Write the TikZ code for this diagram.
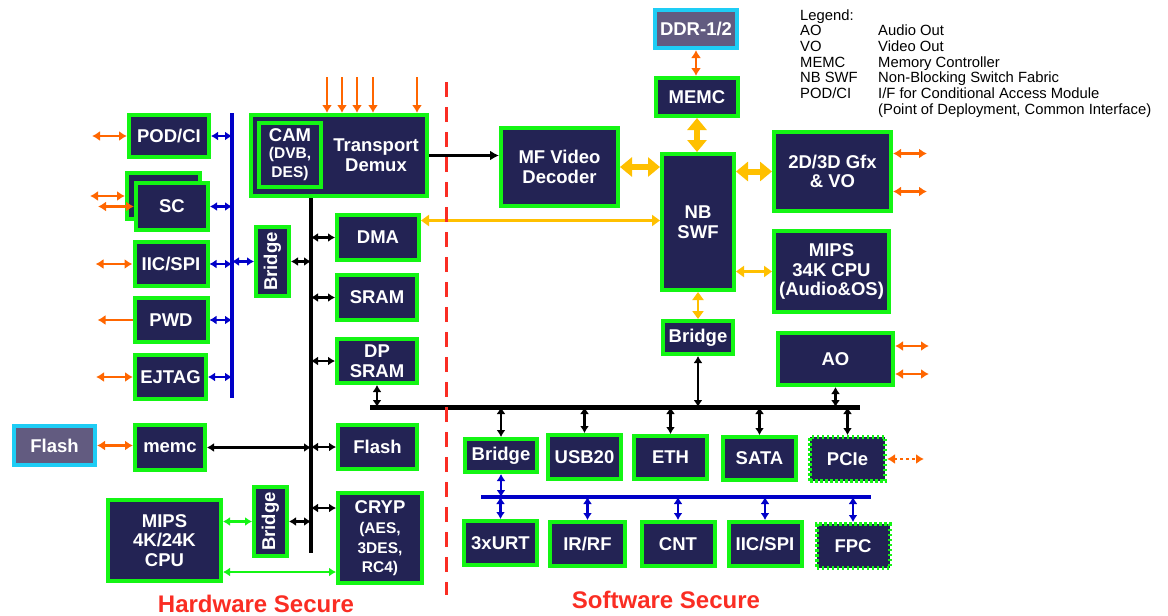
\documentclass[tikz,border=0pt]{standalone}
\usepackage{fontspec}
\setmainfont{Liberation Sans}
\usetikzlibrary{arrows.meta,calc}

\definecolor{navy}{RGB}{35,35,84}
\definecolor{boxgreen}{RGB}{20,245,20}
\definecolor{memfill}{RGB}{98,91,128}
\definecolor{memcyan}{RGB}{30,205,245}
\definecolor{sigorange}{RGB}{255,102,0}
\definecolor{swfyellow}{RGB}{255,192,0}
\definecolor{busblue}{RGB}{0,0,200}
\definecolor{securered}{RGB}{250,45,35}

\newcommand{\subfnt}{\fontsize{15.5}{15.5}\selectfont}

\tikzset{
  box/.style={draw=boxgreen, line width=4pt, fill=navy, text=white,
    font=\fontsize{18.5}{19.5}\selectfont\bfseries, align=center,
    inner sep=0pt, minimum width=73pt, minimum height=44pt},
  dotbox/.style={box, dash pattern=on 2.5pt off 2.5pt},
  membox/.style={box, draw=memcyan, fill=memfill},
  txt/.style={text=white, font=\fontsize{18.5}{20}\selectfont\bfseries, align=center, inner sep=0pt},
  dtip/.tip={Latex[length=7pt,width=9pt]},
  otip/.tip={Latex[length=8pt,width=10pt]},
  blarr/.style={busblue, line width=2.2pt, dtip-dtip},
  bkarr/.style={black, line width=2.2pt, dtip-dtip},
  grarr/.style={boxgreen, line width=2.5pt, dtip-dtip},
  orarr/.style={sigorange, line width=2.6pt, otip-otip},
  orin/.style={sigorange, line width=2.6pt, -otip},
  ywthick/.style={swfyellow, line width=6pt, {Triangle[length=12pt,width=19pt]}-{Triangle[length=12pt,width=19pt]}},
  ywthin/.style={swfyellow, line width=2.6pt, {Triangle[length=8pt,width=11pt]}-{Triangle[length=8pt,width=11pt]}},
  bus/.style={line width=3.2pt},
  seclabel/.style={securered, font=\fontsize{24}{26}\selectfont\bfseries, inner sep=0pt}
}

\begin{document}
\begin{tikzpicture}[x=1pt,y=-1pt]
  \useasboundingbox (0,0) rectangle (1168,616);

  % hardware secure side: peripherals on the blue bus
  \node[box, minimum width=80, minimum height=42] (podci) at (169,136) {POD/CI};
  \node[box, minimum width=73, minimum height=46] (scb) at (163.5,196) {};
  \node[box, minimum width=72, minimum height=47] (scf) at (172,206.5) {SC};
  \node[box] (iicl) at (171,264) {IIC/SPI};
  \node[box] (pwd) at (171,320) {PWD};
  \node[box, minimum width=71] (ejtag) at (170.5,377) {EJTAG};
  \node[box, minimum width=33, minimum height=69] (bridgeA) at (272.5,261.5) {\rotatebox{90}{Bridge}};

  % transport demux with CAM inside
  \node[box, minimum width=176, minimum height=81] (td) at (339,155.5) {};
  \node[box, line width=3.5pt, minimum width=62, minimum height=64] (cam) at (290,155)
    {CAM\\[-3pt]\subfnt (DVB,\\\subfnt DES)};
  \node[txt] (tdlabel) at (376,155) {Transport\\Demux};

  % memories on the black bus
  \node[box, minimum width=82, minimum height=45] (dma) at (378,237.5) {DMA};
  \node[box, minimum width=80, minimum height=45] (sram) at (377,297.5) {SRAM};
  \node[box, minimum width=80] (dpsram) at (377,361) {DP\\SRAM};
  \node[box, minimum width=79] (flashR) at (377.5,447) {Flash};
  \node[box, minimum width=84, minimum height=90] (cryp) at (380,538)
    {CRYP\\[1pt]\subfnt (AES,\\\subfnt 3DES,\\\subfnt RC4)};
  \node[box, minimum width=70, minimum height=45] (memc) at (170,447.5) {memc};
  \node[membox, minimum width=81, minimum height=39] (flashL) at (54.5,445.5) {Flash};
  \node[box, minimum width=113, minimum height=81] (mips4k) at (164.5,540.5) {MIPS\\4K/24K\\CPU};
  \node[box, minimum width=33, minimum height=69] (bridgeB) at (270.5,521.5) {\rotatebox{90}{Bridge}};

  % software secure side
  \node[membox, minimum width=82, minimum height=38] (ddr) at (696,29) {DDR-1/2};
  \node[box, minimum width=82, minimum height=38] (memcR) at (697,97) {MEMC};
  \node[box, minimum width=117, minimum height=78] (mfvd) at (559.5,167) {MF Video\\Decoder};
  \node[box, minimum width=72, minimum height=136] (nbswf) at (698,222) {NB\\SWF};
  \node[box, minimum width=117, minimum height=79] (gfx) at (832.5,171.5) {2D/3D Gfx\\\& VO};
  \node[box, minimum width=115, minimum height=81] (mips34) at (831.5,271.5) {MIPS\\34K CPU\\(Audio\&OS)};
  \node[box, minimum width=70, minimum height=33] (bridgeR) at (698,337.5) {Bridge};
  \node[box, minimum width=115, minimum height=52] (ao) at (835.5,359) {AO};

  \node[box, minimum width=72, minimum height=33] (bridgeS) at (501,455.5) {Bridge};
  \node[box] (usb) at (584.5,457) {USB20};
  \node[box, minimum height=43] (eth) at (670.5,457.5) {ETH};
  \node[box, minimum height=43] (sata) at (759.5,458.5) {SATA};
  \node[dotbox, minimum width=75] (pcie) at (847.5,459) {PCIe};
  \node[box] (urt) at (500.5,543) {3xURT};
  \node[box, minimum width=75] (irrf) at (587.5,544) {IR/RF};
  \node[box] (cnt) at (678,544) {CNT};
  \node[box] (iicr) at (765,544) {IIC/SPI};
  \node[dotbox] (fpc) at (853,546) {FPC};

  % buses
  \coordinate (bbtop) at (232,113);
  \coordinate (bbbot) at (232,398);
  \coordinate (kbtop) at (311,198);
  \coordinate (kbbot) at (311,553);
  \coordinate (hbl) at (370,407);
  \coordinate (hbr) at (860,407);
  \coordinate (bhl) at (481,497);
  \coordinate (bhr) at (871,497);
  \draw[bus, busblue] (bbtop) -- (bbbot);
  \draw[bus] (kbtop) -- (kbbot);
  \draw[bus, line width=5pt] (hbl) -- (hbr);
  \draw[bus, busblue, line width=3.5pt] (bhl) -- (bhr);

  % blue bus connections
  \foreach \n in {podci,scf,iicl,pwd,ejtag}
    \draw[blarr] (\n.east) -- (\n.east -| bbtop);
  \draw[blarr] (bridgeA.west) -- (bridgeA.west -| bbtop);

  % black bus connections
  \draw[bkarr] (bridgeA.east) -- (bridgeA.east -| kbtop);
  \foreach \n in {dma,sram,dpsram,flashR}
    \draw[bkarr] (\n.west -| kbtop) -- (\n.west);
  \draw[bkarr] ([yshift=30pt]cryp.west -| kbtop) -- ([yshift=30pt]cryp.west);
  \draw[bkarr] (bridgeB.east) -- (bridgeB.east -| kbtop);
  \draw[bkarr] (memc.east) -- (memc.east -| kbtop);
  \draw[line width=2.4pt, -{Latex[length=9pt,width=10pt]}] (td.east) -- (td.east -| mfvd.west);

  % green links of the secure CPU
  \draw[grarr] (mips4k.east |- bridgeB.west) -- (bridgeB.west);
  \draw[grarr] ([yshift=-31.5pt]mips4k.east) -- ([yshift=-31.5pt]mips4k.east -| cryp.west);

  % external signals
  \draw[orarr] (podci.west) -- ++(-35,0);
  \draw[orarr] (scb.west) -- ++(-35,0);
  \draw[orarr] (scf.west) -- ++(-36,0);
  \draw[orarr] (iicl.west) -- ++(-37,0);
  \draw[orin] (pwd.west) -- ++(-35,0);
  \draw[orarr] (ejtag.west) -- ++(-37,0);
  \draw[orarr] (flashL.east) -- (flashL.east -| memc.west);
  \foreach \dx in {78,93,108,124,168}
    \draw[orin] ($(td.north west)+(\dx,-36)$) -- ($(td.north west)+(\dx,0)$);
  \draw[orarr] (ddr.south) -- (ddr.south |- memcR.north);
  \draw[orarr] ([yshift=18pt]gfx.east) -- ++(34,0);
  \draw[orarr] ([yshift=-20pt]gfx.east) -- ++(34,0);
  \draw[orarr] ([yshift=13pt]ao.east) -- ++(34,0);
  \draw[orarr] ([yshift=-15pt]ao.east) -- ++(34,0);
  \draw[orarr, dash pattern=on 3pt off 3pt] (pcie.east) -- ++(37,0);

  % switch fabric links
  \draw[ywthick] (mfvd.east) -- (mfvd.east -| nbswf.west);
  \draw[ywthick] (memcR.south) -- (memcR.south |- nbswf.north);
  \draw[ywthick] (gfx.west) -- (gfx.west -| nbswf.east);
  \draw[ywthin] (mips34.west) -- (mips34.west -| nbswf.east);
  \draw[ywthin] (nbswf.south) -- (nbswf.south |- bridgeR.north);
  \draw[ywthin] ([yshift=17pt]dma.east) -- ([yshift=17pt]dma.east -| nbswf.west);

  % peripheral bus connections
  \draw[bkarr] (bridgeR.south) -- (bridgeR.south |- hbl);
  \draw[bkarr] (ao.south) -- (ao.south |- hbl);
  \draw[bkarr] (dpsram.south) -- (dpsram.south |- hbl);
  \foreach \n in {bridgeS,usb,eth,sata,pcie}
    \draw[bkarr] (\n.north |- hbl) -- (\n.north);
  \draw[blarr] (bridgeS.south) -- (bridgeS.south |- bhl);
  \foreach \n in {urt,irrf,cnt,iicr,fpc}
    \draw[blarr] (\n.north |- bhl) -- (\n.north);

  % secure domain split
  \coordinate (divtop) at (446,82);
  \coordinate (divbot) at (446,595);
  \draw[securered, line width=3pt, dash pattern=on 15pt off 10pt] (divtop) -- (divbot);
  \node[seclabel] (hwsec) at (256,604) {Hardware Secure};
  \node[seclabel] (swsec) at (666,600) {Software Secure};

  % legend
  \node[anchor=north west, inner sep=0pt, align=left,
    font=\fontsize{14.8}{15.7}\selectfont] (legend) at (800,9) {%
    \begin{tabular}{@{}p{78pt}@{}l@{}}
      Legend: & \\
      AO & Audio Out\\
      VO & Video Out\\
      MEMC & Memory Controller\\
      NB SWF & Non-Blocking Switch Fabric\\
      POD/CI & I/F for Conditional Access Module\\
       & (Point of Deployment, Common Interface)
    \end{tabular}};
\end{tikzpicture}
\end{document}
